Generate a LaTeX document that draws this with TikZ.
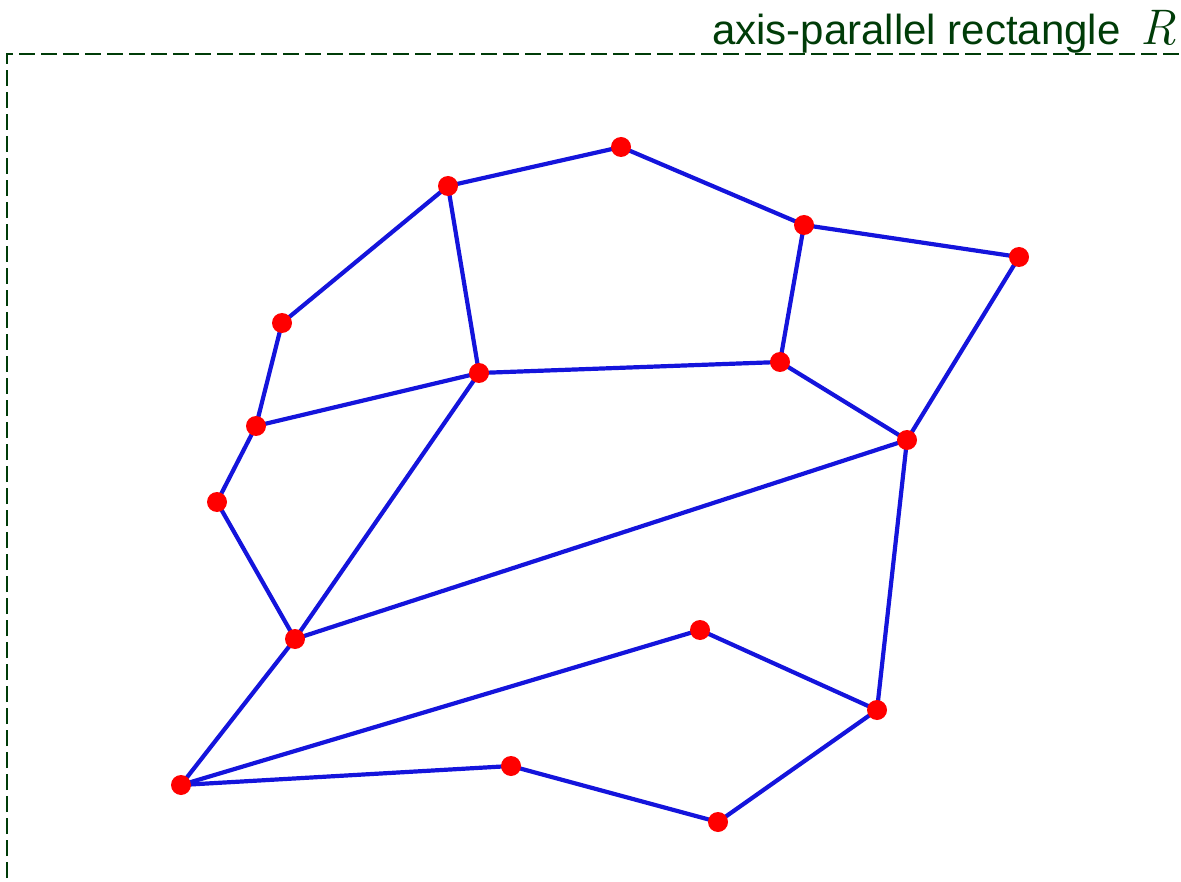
\documentclass[tikz,border=0pt]{standalone}
\usepackage{fontspec}
\newfontfamily\labfont{Liberation Sans}
\newfontfamily\rfont{Latin Modern Roman}
\definecolor{rgreen}{RGB}{0,60,8}
\definecolor{eblue}{RGB}{20,20,220}
\definecolor{vred}{RGB}{255,0,0}
\begin{document}
\begin{tikzpicture}[x=1pt,y=-1pt,
  vtx/.style={circle,fill=vred,draw=none,minimum size=20pt,inner sep=0pt},
  edge/.style={draw=eblue,line width=4.2pt},
  rect/.style={draw=rgreen,line width=1.6pt,dash pattern=on 16pt off 6pt}]
\useasboundingbox (0,0) rectangle (1181,882);
\begin{scope}
\clip (0,0) rectangle (1181,882);
\draw[rect] (7,900) -- (7,54) -- (1200,54);
\node[anchor=base west,inner sep=0pt,text=rgreen] (lab) at (712,45)
  {\fontsize{42}{50}\selectfont\labfont axis-parallel rectangle\hspace{20pt}{\rfont\itshape\fontsize{50}{50}\selectfont R}};
\end{scope}
\coordinate (c1) at (621,147);
\coordinate (c2) at (448,186);
\coordinate (c3) at (804,225);
\coordinate (c4) at (1019,257);
\coordinate (c5) at (282,323);
\coordinate (c6) at (479,373);
\coordinate (c7) at (780,362);
\coordinate (c8) at (256,426);
\coordinate (c9) at (907,440);
\coordinate (c10) at (217,502);
\coordinate (c11) at (295,639);
\coordinate (c12) at (700,630);
\coordinate (c13) at (877,710);
\coordinate (c14) at (181,785);
\coordinate (c15) at (511,766);
\coordinate (c16) at (718,822);
\foreach \a/\b in {2/1,1/3,3/4,2/5,2/6,3/7,4/9,5/8,8/6,6/7,7/9,8/10,10/11,6/11,11/9,9/13,11/14,14/12,12/13,14/15,15/16,16/13}
  \draw[edge] (c\a) -- (c\b);
\foreach \i in {1,...,16}
  \node[vtx] (v\i) at (c\i) {};
\end{tikzpicture}
\end{document}
